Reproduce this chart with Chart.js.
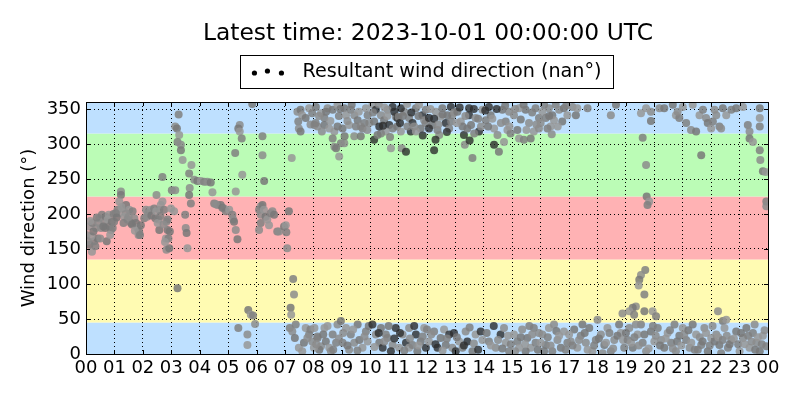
<!DOCTYPE html>
<html lang="en">
<head>
<meta charset="UTF-8">
<title>Wind direction</title>
<script src="https://cdn.jsdelivr.net/npm/chart.js"></script>
<style>
  html, body { margin: 0; padding: 0; background: #fff; }
  .wrap { width: 800px; height: 400px; }
</style>
</head>
<body>
<div class="wrap"><canvas id="wind" width="800" height="400"></canvas></div>
<script>
// [hour of day, direction in degrees]
const obs00to04 = [
  [0.02,170],[0.12,156],[0.21,146],[0.29,161],[0.35,180],[0.41,165],[0.47,194],[0.56,199],
  [0.64,189],[0.70,196],[0.76,192],[0.82,182],[0.88,177],[0.73,161],[0.09,182],[0.23,187],
  [0.53,180],[0.91,189],[0.18,168],[0.33,154],[0.44,187],[0.61,182],[0.80,199],[0.94,180],
  [0.06,161],[0.26,175],[0.15,190],[0.38,195],[0.50,165],[0.68,180],[0.85,170],[0.97,200],
  [1.23,232],[1.23,227],[1.17,218],[1.11,206],[1.29,208],[1.41,213],[1.52,206],[1.64,204],
  [1.70,194],[1.76,187],[1.81,180],[1.87,175],[1.85,170],[1.93,184],[1.17,201],[1.05,201],
  [1.41,201],[1.58,187],[1.35,196],[0.99,189],[1.46,192],[1.08,195],[1.25,210],[1.32,187],
  [1.50,196],[1.62,185],[1.72,176],[1.90,170],
  [2.11,206],[2.22,204],[2.28,206],[2.40,208],[2.48,227],[2.58,206],[2.63,213],[2.69,253],
  [2.55,192],[2.58,177],[2.69,218],[2.75,206],[2.83,189],[2.87,177],[2.81,165],[2.90,165],
  [2.83,149],[2.93,151],[2.99,208],[2.87,192],[2.17,201],[2.44,194],[2.52,187],[2.05,194],
  [2.15,196],[2.30,198],[2.47,204],[2.62,197],[2.73,185],[2.95,175],[2.78,160],
  [3.02,234],[3.14,234],[3.22,94],[3.10,204],[3.26,342],[3.14,325],[3.20,322],[3.28,313],
  [3.22,303],[3.34,299],[3.34,291],[3.40,277],[3.49,199],[3.51,180],[3.54,173],[3.57,151],
  [3.63,258],[3.65,237],[3.63,227],[3.71,270],[3.69,215],[3.81,249],[3.92,247]
];
const obs04to08 = [
  [4.04,247],[4.16,246],[4.27,246],[4.39,245],[4.45,231],[4.51,215],[4.63,213],[4.74,213],
  [4.86,208],[4.92,204],[4.57,214],[4.80,209],
  [5.04,206],[5.15,199],[5.18,192],[5.21,189],[5.27,232],[5.25,287],[5.27,177],[5.33,164],
  [5.50,256],[5.36,37],[5.41,327],[5.36,322],[5.41,318],[5.48,308],[5.68,28],[5.71,63],
  [5.80,56],[5.88,55],[5.95,43],[5.85,357],[5.68,13],
  [6.21,311],[6.21,284],[6.27,247],[6.15,211],[6.09,206],[6.15,199],[6.21,213],[6.26,206],
  [6.15,187],[6.09,177],[6.32,196],[6.38,192],[6.50,201],[6.56,204],[6.62,199],[6.44,184],
  [6.73,175],[6.79,175],[6.97,182],[7.03,184],[7.05,174],[7.08,151],[7.14,204],
  [7.24,280],[7.29,107],[7.32,85],[7.20,66],[7.22,56],[7.17,37],[7.26,32],[7.35,23],
  [7.49,9],[7.38,42],[7.44,346],[7.55,349],[7.61,341],[7.47,332],[7.49,322],[7.55,318],
  [7.85,351],[7.96,344],[7.90,328],[7.73,337],[7.73,37],[7.85,28],[7.96,18],[7.67,16],
  [7.61,4],[7.90,35],[7.79,23]
];
const obs08to12 = [
  [8.09,353],[8.27,344],[8.39,337],[8.50,351],[8.68,349],[8.85,356],[8.04,327],[8.15,325],
  [8.39,327],[8.74,318],[8.68,308],[8.74,296],[8.80,294],[8.91,282],[8.97,301],[9.09,301],
  [8.85,325],[8.56,322],[8.08,330],[8.20,340],[8.45,346],[8.60,333],[8.90,340],[8.30,318],
  [8.95,350],
  [8.04,37],[8.15,23],[8.27,11],[8.44,18],[8.56,9],[8.68,28],[8.85,42],[8.97,47],
  [8.39,37],[8.80,16],[8.62,4],[8.21,6],[8.02,9],[8.14,25],[8.10,14],[8.35,28],
  [8.50,40],[8.70,6],[8.90,22],
  [9.09,351],[9.15,341],[9.32,349],[9.44,341],[9.56,334],[9.67,325],[9.73,322],[9.44,311],
  [9.67,311],[9.85,351],[9.91,341],[9.97,330],[9.03,322],[9.26,327],[9.50,325],[9.20,333],
  [9.35,356],[9.60,346],[9.80,330],[9.90,320],[9.10,311],
  [9.15,37],[9.32,28],[9.44,16],[9.62,20],[9.73,9],[9.85,32],[9.26,6],[9.56,42],
  [9.91,18],[9.03,16],[9.05,30],[9.20,12],[9.40,35],[9.55,5],[9.80,25],[9.95,40],
  [10.08,356],[10.20,349],[10.38,341],[10.49,334],[10.67,327],[10.79,322],[10.90,339],[10.96,337],
  [10.55,318],[10.38,315],[10.14,306],[10.26,313],[10.73,294],[10.79,353],[10.61,349],[10.14,332],
  [10.32,325],[10.10,345],[10.30,357],[10.45,326],[10.60,340],[10.70,310],[10.85,346],[10.95,325],
  [10.50,352],
  [10.08,42],[10.20,28],[10.32,16],[10.44,9],[10.61,23],[10.79,13],[10.90,37],[11.02,9],
  [10.55,28],[10.73,4],[10.38,37],[10.15,10],[10.30,30],[10.50,18],[10.65,40],[10.85,22],
  [11.00,339],[11.11,294],[11.26,289],[11.08,318],[11.37,337],[11.49,330],[11.61,351],[11.72,356],
  [11.84,341],[11.90,334],[11.78,322],[11.43,318],[11.31,325],[11.20,346],[11.08,351],[11.61,318],
  [11.96,349],[11.05,330],[11.15,340],[11.30,357],[11.45,345],[11.55,325],[11.70,340],[11.85,312],
  [11.95,330],
  [11.14,28],[11.26,16],[11.37,9],[11.49,13],[11.61,28],[11.78,18],[11.90,37],[11.96,9],
  [11.37,37],[11.66,4],[11.05,30],[11.20,5],[11.40,22],[11.55,40],[11.70,12],[11.85,25]
];
const obs12to16 = [
  [12.07,337],[12.19,327],[12.31,346],[12.25,291],[12.43,313],[12.54,351],[12.66,330],[12.78,322],
  [12.89,341],[12.84,353],[12.48,339],[12.37,320],[12.07,322],[12.72,341],[12.12,350],[12.25,336],
  [12.40,328],[12.55,342],[12.70,317],[12.85,332],[12.95,345],[12.30,306],
  [12.07,18],[12.25,32],[12.37,9],[12.48,23],[12.60,35],[12.78,28],[12.89,9],[12.66,13],
  [13.01,4],[12.00,35],[12.15,28],[12.30,14],[12.55,5],[12.70,22],[12.95,30],
  [13.07,346],[13.19,332],[13.30,313],[13.33,299],[13.42,322],[13.48,341],[13.60,280],[13.71,337],
  [13.83,318],[13.95,349],[13.66,315],[13.48,351],[13.25,325],[13.05,330],[13.15,352],[13.35,340],
  [13.55,327],[13.65,350],[13.80,336],[13.90,325],[13.50,305],
  [13.13,18],[13.25,9],[13.42,18],[13.60,4],[13.71,28],[13.89,32],[13.36,32],[13.05,24],
  [13.30,12],[13.50,38],[13.65,15],[13.80,6],[13.95,20],
  [14.07,334],[14.18,353],[14.24,341],[14.36,322],[14.36,299],[14.48,313],[14.53,289],[14.71,303],
  [14.77,332],[14.89,346],[14.65,349],[14.83,320],[14.94,315],[14.05,348],[14.15,325],[14.30,336],
  [14.45,350],[14.60,330],[14.75,355],[14.90,325],
  [14.18,18],[14.42,9],[14.59,28],[14.77,16],[14.89,4],[14.71,37],[14.10,30],[14.25,12],
  [14.35,40],[14.50,20],[14.65,8],[14.85,26],[14.95,14],
  [15.06,341],[15.18,320],[15.24,308],[15.41,306],[15.59,330],[15.65,308],[15.76,318],[15.94,337],
  [15.94,322],[15.47,349],[15.24,351],[15.82,351],[15.10,350],[15.30,335],[15.50,320],[15.70,345],
  [15.85,328],[15.40,356],
  [15.06,28],[15.18,18],[15.35,35],[15.53,23],[15.65,9],[15.82,16],[15.94,30],[15.47,4],
  [15.24,9],[15.76,37],[15.10,4],[15.30,24],[15.45,14],[15.60,40],[15.70,28],[15.90,6]
];
const obs16to20 = [
  [16.06,346],[16.18,337],[16.29,351],[16.41,341],[16.47,334],[16.53,356],[16.65,349],[16.76,332],
  [16.35,325],[16.24,322],[16.39,314],[16.82,351],[16.94,341],[16.12,356],[16.00,330],[16.30,340],
  [16.60,325],[16.90,355],
  [17.12,353],[17.24,341],[17.29,351],[17.65,351],[18.47,341],[18.65,356],
  [19.53,344],[19.59,309],[19.71,270],[19.73,225],[19.82,218],[19.76,213],[19.88,346],[19.88,333],
  [19.71,351],
  [19.68,120],[19.53,113],[19.47,106],[19.45,98],[19.65,85],[19.35,68],[19.24,66],[19.12,61],
  [19.29,56],[18.88,58],[19.65,61],[19.94,61],[20.06,54],
  [16.06,28],[16.18,13],[16.29,37],[16.41,4],[16.59,20],[16.71,9],[16.82,32],[16.94,16],
  [16.47,42],[16.12,4],[16.00,16],[16.25,24],[16.35,12],[16.55,33],[16.65,26],[16.88,6],
  [17.06,18],[17.18,35],[17.29,9],[17.41,26],[17.59,16],[17.71,37],[17.82,4],[17.94,20],
  [18.00,49],[17.47,42],[17.00,28],[17.12,12],[17.35,20],[17.55,30],[17.65,6],[17.88,12],
  [18.12,28],[18.24,13],[18.35,37],[18.47,4],[18.59,20],[18.76,42],[18.82,30],[18.94,9],
  [18.18,1],[18.05,22],[18.30,16],[18.42,30],[18.55,8],[18.70,26],[18.90,20],
  [19.06,20],[19.12,37],[19.24,9],[19.41,28],[19.59,16],[19.71,4],[19.88,32],[20.00,18],
  [19.53,42],[19.35,42],[19.00,30],[19.18,16],[19.30,24],[19.45,12],[19.65,28],[19.80,8],
  [19.95,40]
];
const obs20to24 = [
  [20.18,351],[20.35,351],[20.76,341],[20.88,337],[20.82,346],[20.65,356],[21.00,353],
  [21.12,330],[21.29,320],[21.47,318],[21.59,341],[21.71,349],[21.82,337],[21.88,330],[22.00,322],
  [22.06,332],[22.12,349],[21.65,284],[21.35,356],[22.29,325],[22.35,322],
  [22.41,351],[22.53,341],[22.71,349],[22.18,341],[22.88,351],
  [23.12,353],[23.29,327],[23.35,318],[23.35,308],[23.47,303],[23.71,291],[23.73,277],[23.82,261],
  [23.92,260],[23.94,218],[23.94,211],[23.71,351],[23.71,337],[23.71,325],
  [22.24,61],[22.41,47],[22.53,49],
  [20.12,37],[20.24,20],[20.35,9],[20.47,30],[20.59,16],[20.76,4],[20.88,26],[21.00,37],
  [20.71,42],[20.05,26],[20.20,12],[20.40,22],[20.55,34],[20.65,8],[20.80,18],[20.95,12],
  [21.12,20],[21.24,9],[21.35,42],[21.47,28],[21.65,13],[21.76,37],[21.88,4],[22.00,23],
  [21.53,6],[21.05,28],[21.20,34],[21.30,16],[21.42,6],[21.60,24],[21.70,18],[21.82,30],
  [21.95,12],
  [22.18,28],[22.29,13],[22.47,37],[22.59,9],[22.71,20],[22.88,32],[23.00,4],[22.35,1],
  [22.05,40],[22.12,18],[22.25,24],[22.40,20],[22.55,26],[22.65,14],[22.80,22],[22.95,14],
  [23.12,23],[23.24,37],[23.35,9],[23.47,30],[23.59,16],[23.71,4],[23.82,26],[23.94,11],
  [23.53,42],[23.05,30],[23.18,14],[23.30,26],[23.42,18],[23.55,6],[23.65,24],[23.78,14],
  [23.88,34]
];

// direction sectors shaded behind the points
const sectorEdges = [0, 45, 135, 225, 315, 360];
const sectorColors = ['rgb(190,224,255)', 'rgb(255,251,178)', 'rgb(255,178,180)',
                      'rgb(187,252,182)', 'rgb(190,224,255)'];
const yTickValues = [0, 50, 100, 150, 200, 250, 300, 350];

const titleText = 'Latest time: 2023-10-01 00:00:00 UTC';
const legendText = 'Resultant wind direction (nan\u00b0)';
const FONT = 'DejaVu Sans';

const points = [].concat(obs00to04, obs04to08, obs08to12, obs12to16, obs16to20, obs20to24)
  .map(p => ({x: p[0], y: p[1]}));

// a few grey shades so the cloud of points is not flat
const greys = ['rgba(140,140,140,0.85)', 'rgba(120,120,120,0.85)',
               'rgba(150,150,150,0.85)', 'rgba(128,128,128,0.85)'];

const sectorsPlugin = {
  id: 'sectors',
  beforeDraw(chart) {
    const {ctx, chartArea: a, scales: {y}} = chart;
    ctx.save();
    for (let i = 0; i < sectorColors.length; i++) {
      const top = y.getPixelForValue(sectorEdges[i + 1]);
      const bot = y.getPixelForValue(sectorEdges[i]);
      ctx.fillStyle = sectorColors[i];
      ctx.fillRect(a.left, top, a.right - a.left, bot - top);
    }
    ctx.restore();
  }
};

const frameAndHeader = {
  id: 'frameAndHeader',
  afterDraw(chart) {
    const {ctx, chartArea: a, scales: {x, y}} = chart;
    ctx.save();
    // inward tick marks on all four sides
    ctx.strokeStyle = '#000';
    ctx.lineWidth = 1;
    ctx.beginPath();
    x.ticks.forEach(t => {
      const px = Math.round(x.getPixelForValue(t.value)) + 0.5;
      ctx.moveTo(px, a.bottom); ctx.lineTo(px, a.bottom - 4);
      ctx.moveTo(px, a.top); ctx.lineTo(px, a.top + 4);
    });
    y.ticks.forEach(t => {
      const py = Math.round(y.getPixelForValue(t.value)) + 0.5;
      ctx.moveTo(a.left, py); ctx.lineTo(a.left + 4, py);
      ctx.moveTo(a.right, py); ctx.lineTo(a.right - 4, py);
    });
    ctx.stroke();
    ctx.strokeRect(a.left + 0.5, a.top + 0.5, a.right - a.left, a.bottom - a.top);

    // title
    ctx.fillStyle = '#000';
    ctx.font = '23.4px "' + FONT + '"';
    ctx.textAlign = 'center';
    ctx.textBaseline = 'middle';
    ctx.fillText(titleText, (a.left + a.right) / 2 + 1, 34);

    // legend box
    ctx.font = '19.2px "' + FONT + '"';
    const tw = ctx.measureText(legendText).width;
    const boxW = tw + 74, boxX = (a.left + a.right) / 2 - boxW / 2;
    ctx.fillStyle = '#fff';
    ctx.fillRect(boxX, 56, boxW, 33);
    ctx.strokeStyle = '#000';
    ctx.strokeRect(Math.round(boxX) + 0.5, 55.5, Math.round(boxW), 33);
    ctx.fillStyle = '#000';
    [[14, 73], [27, 71], [41, 73]].forEach(d => {
      ctx.beginPath();
      ctx.arc(boxX + d[0], d[1], 2.6, 0, Math.PI * 2);
      ctx.fill();
    });
    ctx.textAlign = 'left';
    ctx.fillText(legendText, boxX + 62, 72);
    ctx.restore();
  }
};

new Chart(document.getElementById('wind'), {
  type: 'scatter',
  data: {
    datasets: [{
      label: legendText,
      data: points,
      pointRadius: 4,
      pointHoverRadius: 4,
      borderWidth: 0,
      clip: 0,
      backgroundColor: ctx => {
        const p = ctx.raw;
        if (p && p.x > 10 && p.x < 14.6 && ctx.dataIndex % 3 === 0) return 'rgba(45,45,45,0.8)';
        return greys[ctx.dataIndex % greys.length];
      }
    }]
  },
  options: {
    responsive: false,
    animation: false,
    events: [],
    layout: { padding: { top: 102, right: 32, left: 0, bottom: 0 } },
    plugins: { legend: { display: false }, title: { display: false }, tooltip: { enabled: false } },
    scales: {
      x: {
        type: 'linear', min: 0, max: 24,
        afterFit: s => { s.height = 46; },
        grid: { color: '#000', drawTicks: false, lineWidth: 1 },
        border: { display: false, dash: [1, 3] },
        ticks: {
          stepSize: 1, autoSkip: false, maxRotation: 0, padding: 4, color: '#000',
          font: { family: FONT, size: 18 },
          callback: v => String(v % 24).padStart(2, '0')
        }
      },
      y: {
        min: 0, max: 360,
        afterFit: s => { s.width = 86; },
        afterBuildTicks: s => { s.ticks = yTickValues.map(v => ({ value: v })); },
        grid: { color: '#000', drawTicks: false, lineWidth: 1 },
        border: { display: false, dash: [1, 3] },
        title: { display: true, text: 'Wind direction (\u00b0)', color: '#000',
                 font: { family: FONT, size: 18 }, padding: { top: 19, bottom: 0 } },
        ticks: { padding: 5, color: '#000', font: { family: FONT, size: 18 } }
      }
    }
  },
  plugins: [sectorsPlugin, frameAndHeader]
});
</script>
</body>
</html>
